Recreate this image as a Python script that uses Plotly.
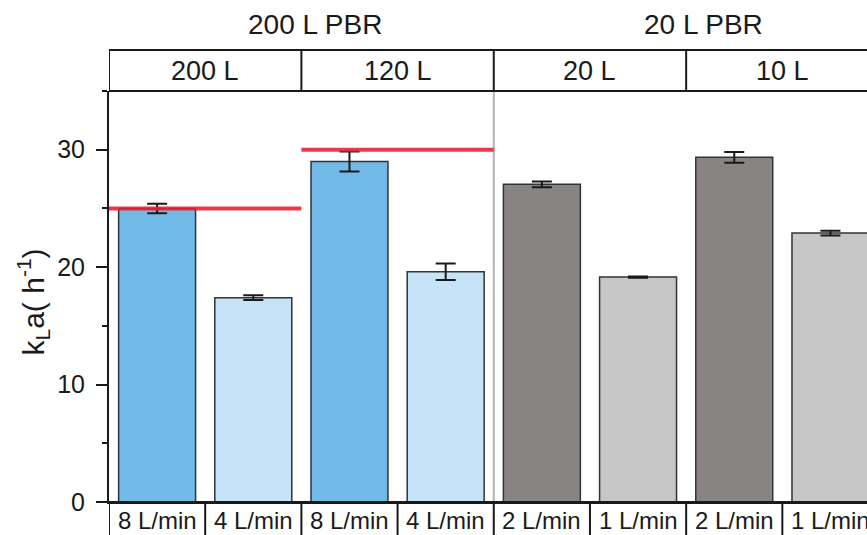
import plotly.graph_objects as go

# ---------------- data ----------------
flow_labels = ["8 L/min", "4 L/min", "8 L/min", "4 L/min",
               "2 L/min", "1 L/min", "2 L/min", "1 L/min"]
kla_values = [25.0, 17.4, 29.0, 19.6, 27.05, 19.15, 29.35, 22.9]
kla_errors = [0.4, 0.2, 0.85, 0.7, 0.25, 0.05, 0.45, 0.2]
bar_colors = ["#72bbe8", "#c6e3f7", "#72bbe8", "#c6e3f7",
              "#878483", "#c8c7c8", "#878483", "#c8c7c8"]
vessel_labels = ["200 L", "120 L", "20 L", "10 L"]
reactor_labels = ["200 L PBR", "20 L PBR"]
reference_kla = [25, 30]          # red reference lines for the 200 L and 120 L vessels

x_pos = list(range(len(kla_values)))

FONT = "Liberation Sans, Arial, sans-serif"
INK = "#1a1a1a"
PLOT_H = 535 - 91 - 33

fig = go.Figure()

fig.add_trace(go.Bar(
    x=x_pos, y=kla_values,
    marker=dict(color=bar_colors, line=dict(color="#333333", width=1.5)),
    error_y=dict(type="data", array=kla_errors, visible=True,
                 color=INK, thickness=2, width=10),
    showlegend=False,
))

for i, ref in enumerate(reference_kla):
    fig.add_trace(go.Scatter(
        x=[2 * i - 0.5, 2 * i + 1.5], y=[ref, ref],
        mode="lines", line=dict(color="rgba(232,30,50,0.88)", width=4),
        showlegend=False, hoverinfo="skip", cliponaxis=False,
    ))

shapes = []
# gray separator between reactors
shapes.append(dict(type="line", xref="x", yref="paper", x0=3.5, x1=3.5, y0=0, y1=1,
                   line=dict(color="#b3b3b3", width=2), layer="below"))
# header box
top_y0 = 1.0
top_y1 = 1 + 41 / PLOT_H
shapes.append(dict(type="rect", xref="x", yref="paper", x0=-0.5, x1=9, y0=top_y0, y1=top_y1,
                   line=dict(color=INK, width=2)))
for b in [1.5, 3.5, 5.5]:
    shapes.append(dict(type="line", xref="x", yref="paper", x0=b, x1=b, y0=top_y0, y1=top_y1,
                       line=dict(color=INK, width=2)))
# bottom label boxes
shapes.append(dict(type="rect", xref="x", yref="paper", x0=-0.5, x1=9, y0=-0.3, y1=0,
                   line=dict(color=INK, width=2)))
for b in [0.5, 1.5, 2.5, 3.5, 4.5, 5.5, 6.5]:
    shapes.append(dict(type="line", xref="x", yref="paper", x0=b, x1=b, y0=-0.3, y1=0,
                       line=dict(color=INK, width=2)))

annotations = []
for i, lab in enumerate(flow_labels):
    annotations.append(dict(x=x_pos[i], y=-18 / PLOT_H, xref="x", yref="paper", text=lab,
                            showarrow=False, xanchor="center", yanchor="middle",
                            font=dict(family=FONT, size=24, color=INK)))
for i, lab in enumerate(vessel_labels):
    annotations.append(dict(x=2 * i + 0.5, y=(502 - 70.5) / PLOT_H, xref="x", yref="paper",
                            text=lab, showarrow=False, xanchor="center", yanchor="middle",
                            font=dict(family=FONT, size=27, color=INK)))
for i, lab in enumerate(reactor_labels):
    annotations.append(dict(x=[1.64, 5.68][i], y=(502 - 25) / PLOT_H, xref="x", yref="paper",
                            text=lab, showarrow=False, xanchor="center", yanchor="middle",
                            font=dict(family=FONT, size=28, color=INK)))
annotations.append(dict(x=(33 - 109) / 758, y=0.5 - 6 / PLOT_H, xref="paper", yref="paper",
                        text="k<sub>L</sub>a( h<sup>-1</sup>)", textangle=-90,
                        showarrow=False, xanchor="center", yanchor="middle",
                        font=dict(family=FONT, size=30, color=INK)))

fig.update_layout(
    width=867, height=535,
    margin=dict(l=109, r=0, t=91, b=33, pad=0),
    paper_bgcolor="white", plot_bgcolor="white",
    bargap=0.2,
    shapes=shapes, annotations=annotations,
    font=dict(family=FONT, color=INK),
)
fig.update_xaxes(range=[-0.5, 7.38], showticklabels=False, ticks="",
                 showline=True, linecolor=INK, linewidth=2, showgrid=False, zeroline=False)
fig.update_yaxes(range=[0, 35], tickvals=[0, 10, 20, 30], ticks="outside", ticklen=11,
                 tickwidth=2, tickcolor=INK, showline=True, linecolor=INK, linewidth=2,
                 showgrid=False, zeroline=False, ticklabelstandoff=6,
                 tickfont=dict(family=FONT, size=25, color=INK),
                 minor=dict(tickvals=[5, 15, 25, 35], ticks="outside", ticklen=5,
                            tickwidth=2, tickcolor=INK, showgrid=False))

fig.write_html("out.html")
